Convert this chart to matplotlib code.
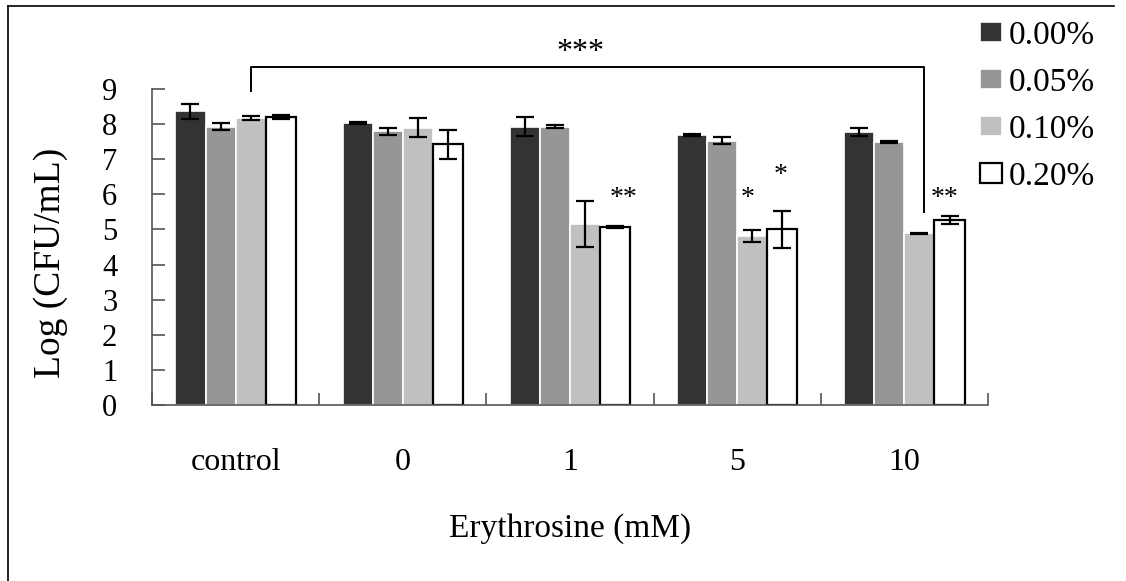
import matplotlib.pyplot as plt
from matplotlib.lines import Line2D
import numpy as np

plt.rcParams['font.family'] = ['Liberation Serif', 'DejaVu Serif']

categories = ['control', '0', '1', '5', '10']
series = ['0.00%', '0.05%', '0.10%', '0.20%']

# mean Log(CFU/mL) per series, one value per category
vals_000 = [8.36, 8.03, 7.92, 7.69, 7.77]
vals_005 = [7.92, 7.80, 7.93, 7.52, 7.50]
vals_010 = [8.18, 7.90, 5.15, 4.82, 4.89]
vals_020 = [8.20, 7.42, 5.07, 5.00, 5.26]

err_000 = [0.22, 0.02, 0.27, 0.03, 0.11]
err_005 = [0.10, 0.10, 0.04, 0.10, 0.03]
err_010 = [0.06, 0.27, 0.65, 0.17, 0.02]
err_020 = [0.05, 0.40, 0.03, 0.53, 0.11]

# significance marks: (x position, y position, text, size)
marks = [(2.32, 5.89, '**', 20), (3.06, 5.89, '*', 20), (3.26, 6.55, '*', 20),
         (4.24, 5.89, '**', 20), (2.06, 10.05, '***', 23)]

values = [vals_000, vals_005, vals_010, vals_020]
errors = [err_000, err_005, err_010, err_020]
colors = ['#333333', '#969696', '#c0c0c0', 'white']
edges = ['white', 'white', 'white', 'black']

fig = plt.figure(figsize=(11.26, 5.81), dpi=100)
ax = fig.add_axes([152/1126, 1-405/581, (988-152)/1126, (405-89)/581])

x = np.arange(len(categories))
w = 0.18
for i in range(4):
    pos = x + (i - 1.5) * w
    ax.bar(pos, values[i], width=w, color=colors[i], edgecolor=edges[i],
           linewidth=1.2 if i < 3 else 1.6, label=series[i], zorder=2)
    ax.errorbar(pos, values[i], yerr=errors[i], fmt='none', ecolor='black',
                elinewidth=1.6, capsize=6.5, capthick=1.6, zorder=3)

# bracket between control and 10 mM
ax.plot([0.09, 0.09, 4.12, 4.12], [8.95, 9.64, 9.64, 5.5], color='black',
        lw=1.4, clip_on=False, zorder=4)

for (mx, my, t, fs) in marks:
    ax.text(mx, my, t, ha='center', va='center', fontsize=fs, clip_on=False)

ax.set_xlim(-0.5, 4.5)
ax.set_ylim(0, 9)
ax.set_yticks(range(10))
ax.set_xticks(x)
ax.set_xticklabels(categories, fontsize=23)
ax.set_xticks(np.arange(-0.5, 5, 1), minor=True)
ax.tick_params(axis='x', which='major', length=0, pad=31)
ax.tick_params(axis='x', which='minor', direction='in', length=9, color='#555555', width=1.2)
ax.tick_params(axis='y', direction='in', length=9, color='#555555', width=1.2,
               labelsize=22, pad=25)
for s in ['top', 'right']:
    ax.spines[s].set_visible(False)
for s in ['left', 'bottom']:
    ax.spines[s].set_color('#555555')
    ax.spines[s].set_linewidth(1.2)

ax.set_xlabel('Erythrosine (mM)', fontsize=24, labelpad=26)
ax.set_ylabel('Log (CFU/mL)', fontsize=27)
ax.yaxis.set_label_coords(-0.10, 0.45)

fig.legend(loc='upper left', bbox_to_anchor=(980/1126, 1-20/581), frameon=False,
           fontsize=24, handlelength=0.65, handleheight=0.55, handletextpad=0.2,
           labelspacing=0.5, borderpad=0, borderaxespad=0)

# outer frame (top and left only visible)
fig.add_artist(Line2D([8/1126, 1114/1126], [1-6/581, 1-6/581], color='black', lw=1.2))
fig.add_artist(Line2D([8/1126, 8/1126], [0, 1-6/581], color='black', lw=1.2))

fig.savefig('out.png', dpi=100)
